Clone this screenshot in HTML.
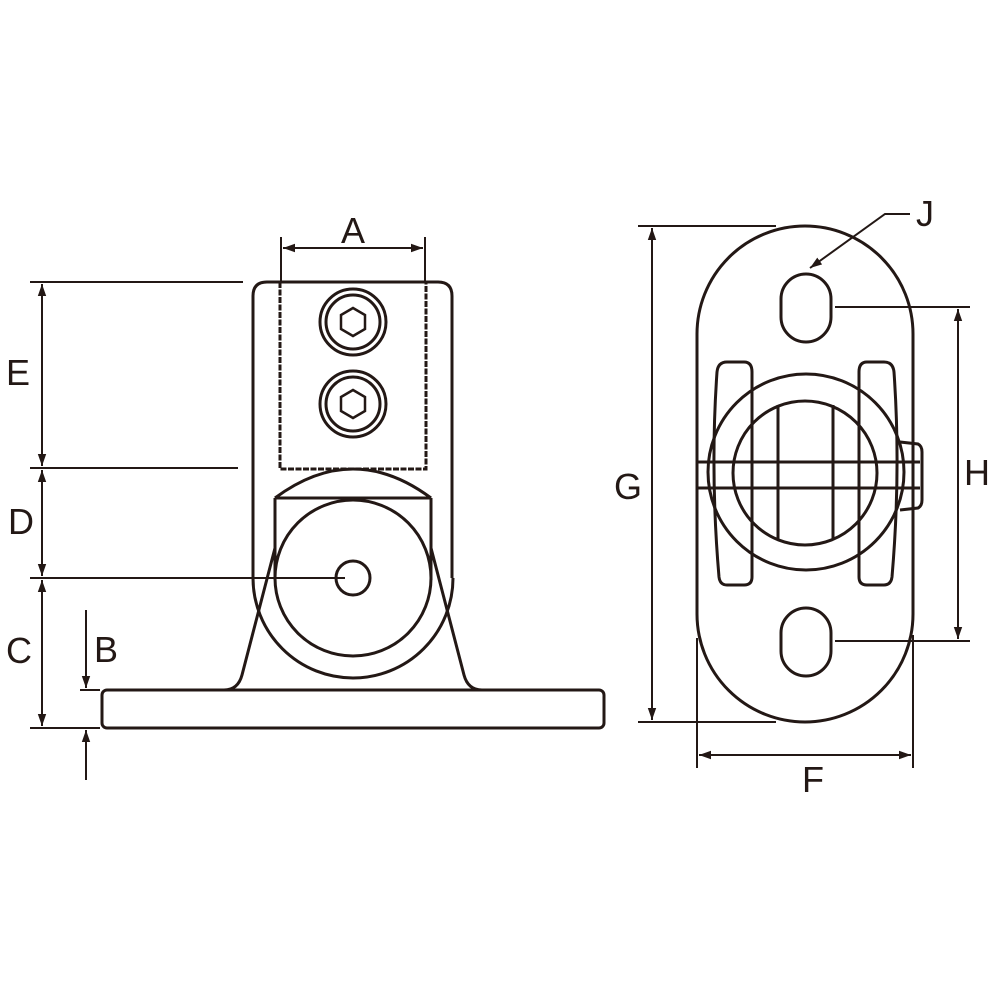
<!DOCTYPE html><html><head><style>body{margin:0;background:#fff}svg{display:block}text{font-family:"Liberation Sans",sans-serif;font-size:36px;fill:#231815;stroke:none}</style></head><body>
<svg width="1000" height="1000" viewBox="0 0 1000 1000" fill="none" stroke="#231815" stroke-width="3">
<defs><marker id="a" viewBox="0 0 10 10" refX="10" refY="5" markerWidth="6" markerHeight="6" orient="auto-start-reverse"><path d="M0,1.5 L10,5 L0,8.5z" fill="#231815" stroke="none"/></marker></defs>
<!-- left view -->
<path d="M253,578 V296 Q253,282 267,282 H438 Q452,282 452,296 V578"/>
<path d="M253,578 A100,100 0 0 0 453,578"/>
<rect x="280" y="282" width="146" height="187" stroke-dasharray="6,1.5"/>
<circle cx="353" cy="322" r="33"/><circle cx="353" cy="322" r="27"/>
<polygon points="353,308 365,315 365,329 353,336 341,329 341,315" stroke-width="2.5"/>
<circle cx="353" cy="404" r="33"/><circle cx="353" cy="404" r="27"/>
<polygon points="353,390 365,397 365,411 353,418 341,411 341,397" stroke-width="2.5"/>
<path d="M275,498 H431 M275,498 Q353,440 431,498 M275,498 V580 M431,498 V580"/>
<circle cx="353" cy="578" r="78"/>
<circle cx="353" cy="578" r="17"/>
<path d="M275,548 L242,675 Q238,690 224,690 M431,548 L464,675 Q468,690 482,690"/>
<rect x="102" y="690" width="502" height="38" rx="5"/>
<g stroke-width="2">
<path d="M30,282 H243 M30,468 H238 M30,578 H345 M30,728 H100 M80,690 H100 M281,237 V282 M425,237 V282"/>
<path d="M42,284 V466" marker-start="url(#a)" marker-end="url(#a)"/>
<path d="M42,470 V576" marker-start="url(#a)" marker-end="url(#a)"/>
<path d="M42,580 V726" marker-start="url(#a)" marker-end="url(#a)"/>
<path d="M283,248 H423" marker-start="url(#a)" marker-end="url(#a)"/>
<path d="M86,610 V688" marker-end="url(#a)"/>
<path d="M86,780 V730" marker-end="url(#a)"/>
</g>
<text x="341" y="243">A</text><text x="6" y="385">E</text><text x="8" y="534">D</text><text x="6" y="663">C</text><text x="94" y="662">B</text>
<!-- right view -->
<path d="M697,334 A108,108 0 0 1 913,334 V614 A108,108 0 0 1 697,614 Z"/>
<rect x="781" y="274" width="50" height="68" rx="25"/>
<rect x="781" y="608" width="50" height="68" rx="25"/>
<path d="M727,362 H744 Q752,362 752,372 V577 Q752,585 744,585 H727 Q720,585 719,577 Q710,472 717,372 Q718,362 727,362Z"/>
<path d="M884,362 H867 Q859,362 859,372 V577 Q859,585 867,585 H884 Q891,585 892,577 Q901,472 894,372 Q893,362 884,362Z"/>
<circle cx="806" cy="472" r="98"/>
<circle cx="805" cy="473" r="72"/>
<path d="M778,405 V540 M833,405 V540"/>
<path d="M697,462 H920 M697,488 H920"/>
<path d="M900,442 L918,444 Q922,446 922,452 V500 Q922,506 918,508 L900,510"/>
<g stroke-width="2">
<path d="M638,226 H776 M638,722 H776 M835,307 H970 M835,641 H970 M697,638 V768 M913,635 V768"/>
<path d="M652,228 V720" marker-start="url(#a)" marker-end="url(#a)"/>
<path d="M958,309 V639" marker-start="url(#a)" marker-end="url(#a)"/>
<path d="M699,755 H911" marker-start="url(#a)" marker-end="url(#a)"/>
<path d="M910,214 H885 L810,268" marker-end="url(#a)"/>
</g>
<text x="614" y="499">G</text><text x="964" y="485">H</text><text x="802" y="792">F</text><text x="916" y="226">J</text>
</svg></body></html>
